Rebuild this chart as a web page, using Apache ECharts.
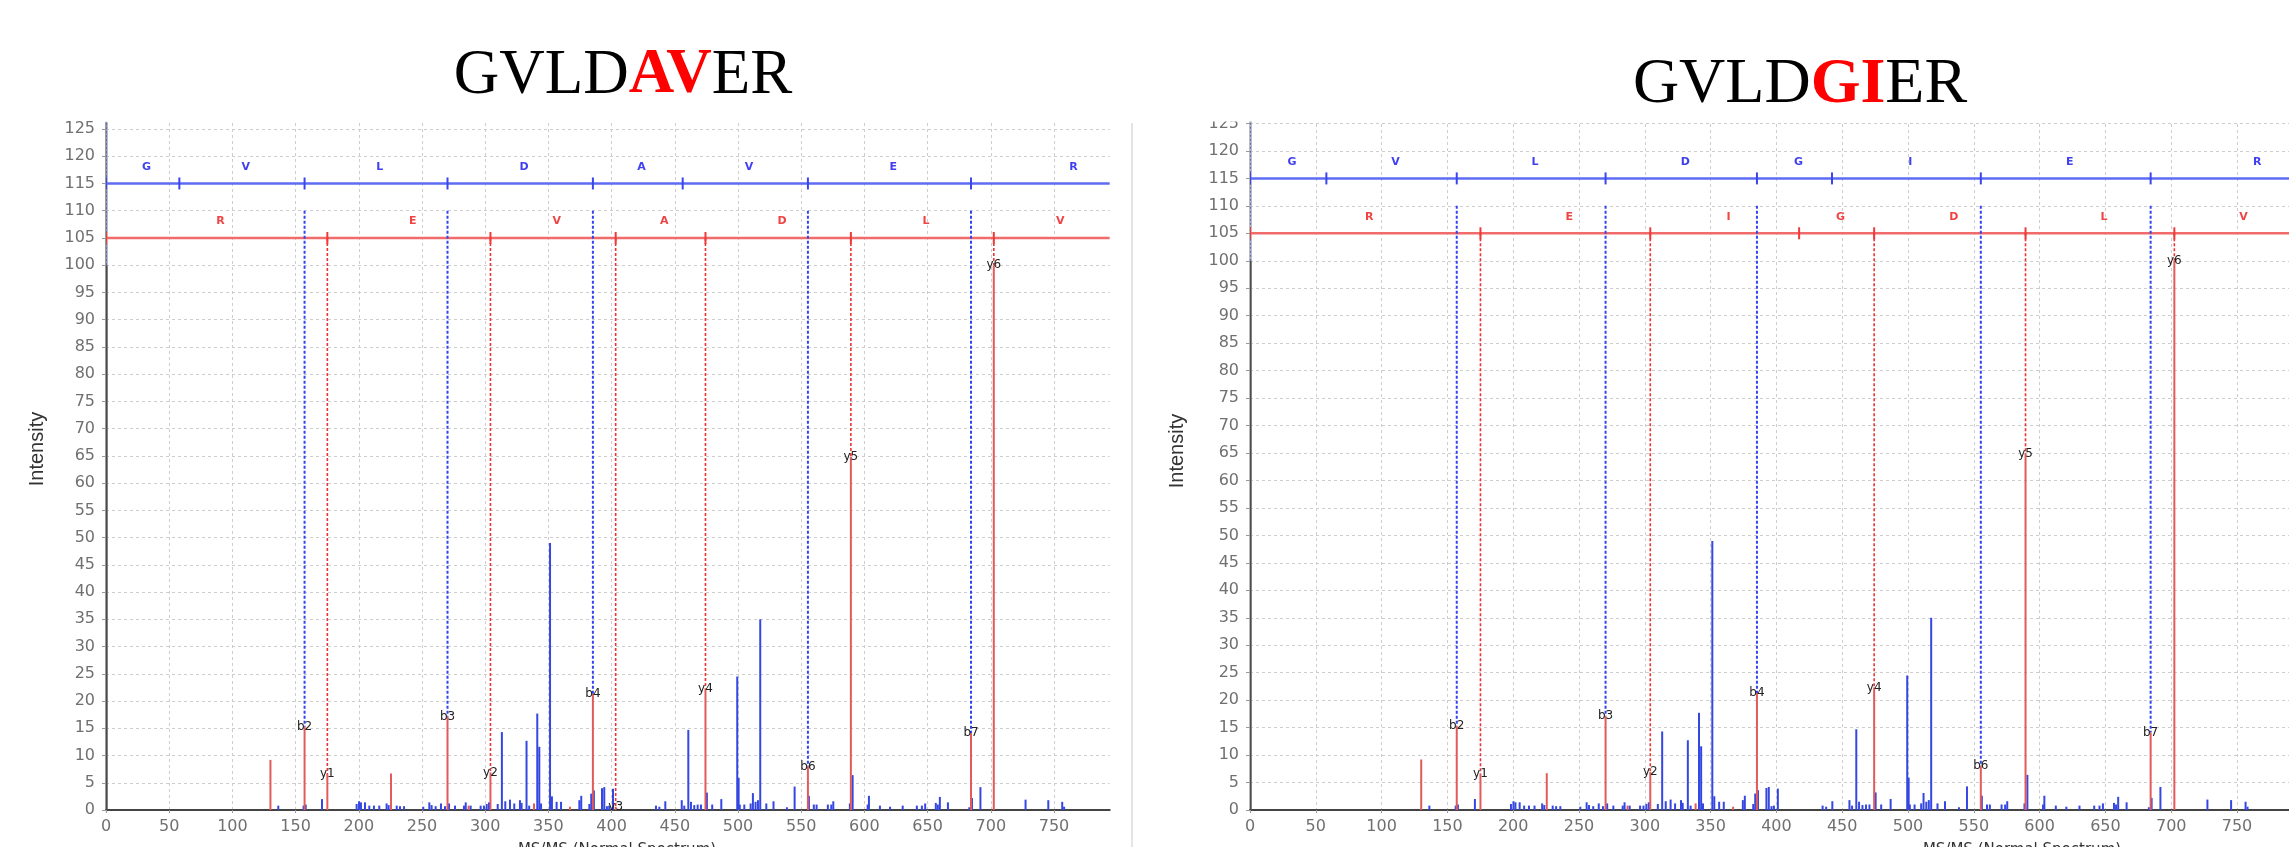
<!DOCTYPE html>
<html>
<head>
<meta charset="utf-8">
<title>GVLDAVER / GVLDGIER</title>
<script src="https://cdn.jsdelivr.net/npm/echarts@6/dist/echarts.min.js"></script>
<style>
html, body { margin: 0; padding: 0; background: #fff; }
#chart { width: 2289px; height: 847px; }
</style>
</head>
<body>
<div id="chart"></div>
<script>
// unmatched peaks, the same spectrum is shown in both panels: [m/z, intensity]
var bluePeaks = [
    [136.3, 0.8], [156.3, 0.8], [158.0, 1.0], [170.9, 2.0], [198.3, 1.1], [200.2, 1.6], [201.7, 1.4],
    [204.9, 1.4], [208.3, 0.8], [212.0, 0.8], [216.2, 0.8], [222.0, 1.2], [223.6, 0.9], [230.0, 0.8],
    [232.6, 0.7], [235.8, 0.7], [251.0, 0.6], [255.8, 1.4], [257.6, 0.9], [260.8, 0.7], [265.0, 1.2],
    [268.2, 0.7], [271.4, 1.2], [276.1, 0.8], [283.2, 0.8], [284.6, 1.4], [288.5, 0.8], [296.4, 0.8],
    [299.0, 0.8], [301.2, 1.1], [303.0, 1.4], [309.9, 1.1], [313.2, 14.3], [315.9, 1.6], [319.6, 1.9],
    [323.0, 1.2], [327.5, 1.8], [328.8, 1.3], [332.7, 12.7], [334.8, 0.8], [341.2, 17.7], [342.8, 11.6],
    [344.2, 1.2], [351.3, 49.0], [352.8, 2.5], [356.5, 1.5], [360.0, 1.5], [374.5, 1.8], [376.0, 2.6],
    [382.4, 1.1], [383.9, 3.0], [386.0, 3.6], [392.4, 4.0], [394.2, 4.2], [396.3, 0.7], [398.1, 0.8],
    [401.1, 3.9], [435.1, 0.8], [437.8, 0.6], [442.5, 1.6], [455.5, 1.8], [457.5, 0.8], [460.7, 14.7],
    [462.8, 1.5], [465.4, 0.9], [468.1, 1.0], [470.7, 1.0], [475.4, 3.2], [479.6, 1.0], [486.8, 2.0],
    [499.4, 24.5], [500.5, 5.9], [501.4, 1.0], [505.0, 1.0], [510.0, 1.2], [511.8, 3.1], [513.9, 1.5],
    [515.8, 1.8], [517.6, 35.0], [522.4, 1.2], [528.1, 1.6], [538.7, 0.5], [544.8, 4.3], [556.1, 2.6],
    [560.0, 1.0], [562.2, 1.0], [571.1, 1.0], [573.8, 1.0], [575.4, 1.6], [588.5, 1.2], [590.7, 6.4],
    [602.6, 1.0], [603.6, 2.6], [612.3, 0.8], [620.3, 0.6], [630.3, 0.8], [641.5, 0.8], [645.5, 0.8],
    [648.1, 1.2], [656.5, 1.3], [658.1, 1.0], [659.7, 2.4], [666.1, 1.4], [683.0, 0.5], [685.1, 2.2],
    [691.8, 4.2], [727.5, 1.9], [745.5, 1.8], [756.5, 1.5], [758.0, 0.6]
];
// red peaks without an ion label
var otherRedPeaks = [[130.1, 9.2], [225.5, 6.7], [286.9, 0.8], [338.6, 1.2], [367.1, 0.6]];

// left: GVLDAVER
var leftSeq = ['G', 'V', 'L', 'D', 'A', 'V', 'E', 'R'];
var leftBIons = [0, 58.03, 157.10, 270.18, 385.21, 456.25, 555.32, 684.36, 840.46];
var leftYIons = [0, 175.12, 304.16, 403.23, 474.27, 589.30, 702.38, 801.45, 858.47];
var leftBHits = [['b2', 157.10, 15.3], ['b3', 270.18, 17.1], ['b4', 385.21, 21.3], ['b6', 555.32, 8.0], ['b7', 684.36, 14.1]];
var leftYHits = [['y1', 175.12, 6.6], ['y2', 304.16, 6.9], ['y3', 403.23, 0.6], ['y4', 474.27, 22.3], ['y5', 589.30, 64.8], ['y6', 702.38, 100]];

// right: GVLDGIER
var rightSeq = ['G', 'V', 'L', 'D', 'G', 'I', 'E', 'R'];
var rightBIons = [0, 58.03, 157.10, 270.18, 385.21, 442.23, 555.32, 684.36, 840.46];
var rightYIons = [0, 175.12, 304.16, 417.25, 474.27, 589.30, 702.38, 801.45, 858.47];
var rightBHits = [['b2', 157.10, 15.3], ['b3', 270.18, 17.1], ['b4', 385.21, 21.3], ['b6', 555.32, 8.0], ['b7', 684.36, 14.1]];
var rightYHits = [['y1', 175.12, 6.6], ['y2', 304.16, 6.9], ['y4', 474.27, 22.3], ['y5', 589.30, 64.8], ['y6', 702.38, 100]];

var X_STEP = 50, Y_STEP = 5;
var B_LEVEL = 115, Y_LEVEL = 105, B_DROP = 110, B_TEXT = 118, Y_TEXT = 108;

var BLUE = '#3447e2', RED = '#e25a5a';
var TICK_FONT = 'DejaVu Sans';

var panels = [
    { title: '{n|GVLD}{r|AV}{n|ER}', titleX: 623, titleY: 76, fs: 63,
      seq: leftSeq, bIons: leftBIons, yIons: leftYIons, bHits: leftBHits, yHits: leftYHits,
      left: 106, top: 123, width: 1003.6, height: 687, xMax: 794, yMax: 126.1, rightBorder: true,
      nameY: 449, nameX: 37, msX: 617 },
    { title: '{n|GVLD}{r|GI}{n|ER}', titleX: 1800, titleY: 85, fs: 64,
      seq: rightSeq, bIons: rightBIons, yIons: rightYIons, bHits: rightBHits, yHits: rightYHits,
      left: 1250, top: 118, width: 1039, height: 692, xMax: 789.5, yMax: 126, rightBorder: false,
      nameY: 451, nameX: 1177, msX: 2022 }
];

var chart = echarts.init(document.getElementById('chart'));

function clone(o) { return Object.assign({}, o); }

// vertical segments, data [x, yFrom, yTo]
function vSeg(xi, yi, data, style, z) {
    return {
        type: 'custom', xAxisIndex: xi, yAxisIndex: yi, clip: true, silent: true, z: z,
        data: data, encode: { x: 0, y: [1, 2] },
        renderItem: function (params, api) {
            var a = api.coord([api.value(0), api.value(1)]);
            var b = api.coord([api.value(0), api.value(2)]);
            return { type: 'line', shape: { x1: a[0], y1: a[1], x2: b[0], y2: b[1] }, style: clone(style) };
        }
    };
}

// horizontal segments, data [xFrom, xTo, y]
function hSeg(xi, yi, data, style, z) {
    return {
        type: 'custom', xAxisIndex: xi, yAxisIndex: yi, clip: true, silent: true, z: z,
        data: data, encode: { x: [0, 1], y: 2 },
        renderItem: function (params, api) {
            var a = api.coord([api.value(0), api.value(2)]);
            var b = api.coord([api.value(1), api.value(2)]);
            return { type: 'line', shape: { x1: a[0], y1: a[1], x2: b[0], y2: b[1] }, style: clone(style) };
        }
    };
}

// small tick marks across a ladder line, data [x, y]
function ticks(xi, yi, data, style, z) {
    return {
        type: 'custom', xAxisIndex: xi, yAxisIndex: yi, clip: true, silent: true, z: z,
        data: data, encode: { x: 0, y: 1 },
        renderItem: function (params, api) {
            var p = api.coord([api.value(0), api.value(1)]);
            return { type: 'line', shape: { x1: p[0], y1: p[1] - 6, x2: p[0], y2: p[1] + 6 }, style: clone(style) };
        }
    };
}

// text at data points, data [x, y], texts by index
function texts(xi, yi, data, labels, style, z) {
    return {
        type: 'custom', xAxisIndex: xi, yAxisIndex: yi, clip: true, silent: true, z: z,
        data: data, encode: { x: 0, y: 1 },
        renderItem: function (params, api) {
            var p = api.coord([api.value(0), api.value(1)]);
            var s = clone(style);
            s.text = labels[params.dataIndex];
            s.align = 'center';
            s.verticalAlign = 'middle';
            return { type: 'text', x: p[0], y: p[1], style: s };
        }
    };
}

var option = {
    backgroundColor: '#fff',
    animation: false,
    grid: [], xAxis: [], yAxis: [], series: [],
    graphic: []
};

panels.forEach(function (p, gi) {
    var xi = option.xAxis.length, yi = option.yAxis.length;
    option.grid.push({ left: p.left, top: p.top, width: p.width, height: p.height, show: false, outerBoundsMode: 'none' });

    option.xAxis.push({
        gridIndex: gi, type: 'value', min: 0, max: p.xMax, interval: X_STEP, position: 'bottom', offset: 5,
        axisLine: { show: true, lineStyle: { color: '#b5b5b5', width: 2 } },
        axisTick: { show: true, length: 3, lineStyle: { color: '#999' } },
        axisLabel: { color: '#707070', fontSize: 16, fontFamily: TICK_FONT, margin: 4, showMaxLabel: false },
        splitLine: { show: true, showMaxLine: false, lineStyle: { type: [3, 3], color: '#cdcdcd', width: 1 } }
    });
    option.xAxis.push({
        gridIndex: gi, type: 'value', min: 0, max: p.xMax, position: 'bottom', offset: 0,
        axisLine: { show: true, lineStyle: { color: '#444', width: 2 } },
        axisTick: { show: false }, axisLabel: { show: false }, splitLine: { show: false }
    });
    option.yAxis.push({
        gridIndex: gi, type: 'value', min: 0, max: p.yMax, interval: Y_STEP, position: 'left', offset: 7,
        axisLine: { show: true, lineStyle: { color: '#bbb', width: 3 } },
        axisTick: { show: true, length: 4, lineStyle: { color: '#999' } },
        axisLabel: { color: '#707070', fontSize: 16, fontFamily: TICK_FONT, margin: 4, showMaxLabel: false },
        splitLine: { show: true, showMaxLine: false, showMinLine: false, lineStyle: { type: [3, 3], color: '#cdcdcd', width: 1 } }
    });
    option.yAxis.push({
        gridIndex: gi, type: 'value', min: 0, max: p.yMax, position: 'right', show: p.rightBorder,
        axisLine: { show: true, lineStyle: { color: '#9a9a9a', width: 2 } },
        axisTick: { show: false }, axisLabel: { show: false }, splitLine: { show: false }
    });

    var X = xi, Y = yi;
    var S = option.series;

    // left edge: dark below 100, blue dotted above
    S.push(vSeg(X, Y, [[0, 0, 100]], { stroke: '#4a4a4a', lineWidth: 3 }, 3));
    S.push(vSeg(X, Y, [[0, 100, p.yMax]], { stroke: '#5566dd', lineWidth: 2, lineDash: [2, 2] }, 3));

    // ladder lines
    S.push(hSeg(X, Y, [[0, p.xMax, B_LEVEL]], { stroke: '#5d6cf2', lineWidth: 2.5 }, 3));
    S.push(hSeg(X, Y, [[0, p.xMax, Y_LEVEL]], { stroke: '#f26b6b', lineWidth: 2.5 }, 3));
    S.push(ticks(X, Y, p.bIons.filter(function (v) { return v <= p.xMax; }).map(function (v) { return [v, B_LEVEL]; }),
        { stroke: '#3a45ee', lineWidth: 2 }, 4));
    S.push(ticks(X, Y, p.yIons.filter(function (v) { return v <= p.xMax; }).map(function (v) { return [v, Y_LEVEL]; }),
        { stroke: '#ee3a3a', lineWidth: 2 }, 4));

    // residue letters between consecutive ions
    var bMid = [], bLab = [], yMid = [], yLab = [];
    for (var i = 0; i < p.seq.length; i++) {
        var mb = (p.bIons[i] + p.bIons[i + 1]) / 2;
        if (mb <= p.xMax) { bMid.push([mb + 3, B_TEXT]); bLab.push(p.seq[i]); }
        var my = (p.yIons[i] + p.yIons[i + 1]) / 2;
        if (my <= p.xMax) { yMid.push([my + 3, Y_TEXT]); yLab.push(p.seq[p.seq.length - 1 - i]); }
    }
    S.push(texts(X, Y, bMid, bLab, { fill: '#4040f0', font: 'bold 11px "DejaVu Sans"' }, 5));
    S.push(texts(X, Y, yMid, yLab, { fill: '#f04444', font: 'bold 11px "DejaVu Sans"' }, 5));

    // dashed drops from the ladders to matched peaks
    S.push(vSeg(X, Y, p.bHits.map(function (h) { return [h[1], B_DROP, h[2]]; }),
        { stroke: '#3344ee', lineWidth: 2, lineDash: [3, 2] }, 3));
    S.push(vSeg(X, Y, p.yHits.map(function (h) { return [h[1], Y_LEVEL, h[2]]; }),
        { stroke: '#ee3333', lineWidth: 1.6, lineDash: [3, 2] }, 3));

    // peaks
    S.push(vSeg(X, Y, bluePeaks.map(function (d) { return [d[0], 0, d[1]]; }),
        { stroke: BLUE, lineWidth: 2 }, 4));
    var reds = otherRedPeaks.concat(p.bHits.map(function (h) { return [h[1], h[2]]; }),
        p.yHits.map(function (h) { return [h[1], h[2]]; }));
    S.push(vSeg(X, Y, reds.map(function (d) { return [d[0], 0, d[1]]; }),
        { stroke: RED, lineWidth: 2 }, 4));

    // ion labels at peak tops
    var hits = p.bHits.concat(p.yHits);
    S.push(texts(X, Y, hits.map(function (h) { return [h[1], h[2]]; }), hits.map(function (h) { return h[0]; }),
        { fill: '#222', font: '12px "DejaVu Sans"' }, 6));

    // titles and axis names
    option.graphic.push({
        type: 'text', x: p.titleX, y: p.titleY, z: 10,
        style: {
            text: p.title, align: 'center', verticalAlign: 'middle',
            rich: {
                n: { fontFamily: 'Liberation Serif', fontSize: p.fs, fill: '#000', fontWeight: 'normal' },
                r: { fontFamily: 'Liberation Serif', fontSize: p.fs, fill: '#ff0000', fontWeight: 'bold' }
            }
        }
    });
    option.graphic.push({
        type: 'text', x: p.nameX, y: p.nameY, rotation: Math.PI / 2, z: 10,
        style: { text: 'Intensity', align: 'center', verticalAlign: 'middle', fill: '#333',
                 font: '20px "Liberation Sans Narrow", "Liberation Sans", sans-serif' }
    });
    option.graphic.push({
        type: 'text', x: p.msX, y: 843, z: 10,
        style: { text: 'MS/MS (Normal Spectrum)', align: 'center', verticalAlign: 'top', fill: '#333',
                 font: '15px "DejaVu Sans"' }
    });
});

// right screenshot is cut off at the top
option.graphic.push({ type: 'rect', z: 8, shape: { x: 1140, y: 0, width: 1149, height: 121.5 }, style: { fill: '#fff' } });
// light separator right of the left plot
option.graphic.push({ type: 'line', z: 1, shape: { x1: 1132, y1: 123, x2: 1132, y2: 847 }, style: { stroke: '#e4e4e4', lineWidth: 2 } });

chart.setOption(option);
</script>
</body>
</html>
